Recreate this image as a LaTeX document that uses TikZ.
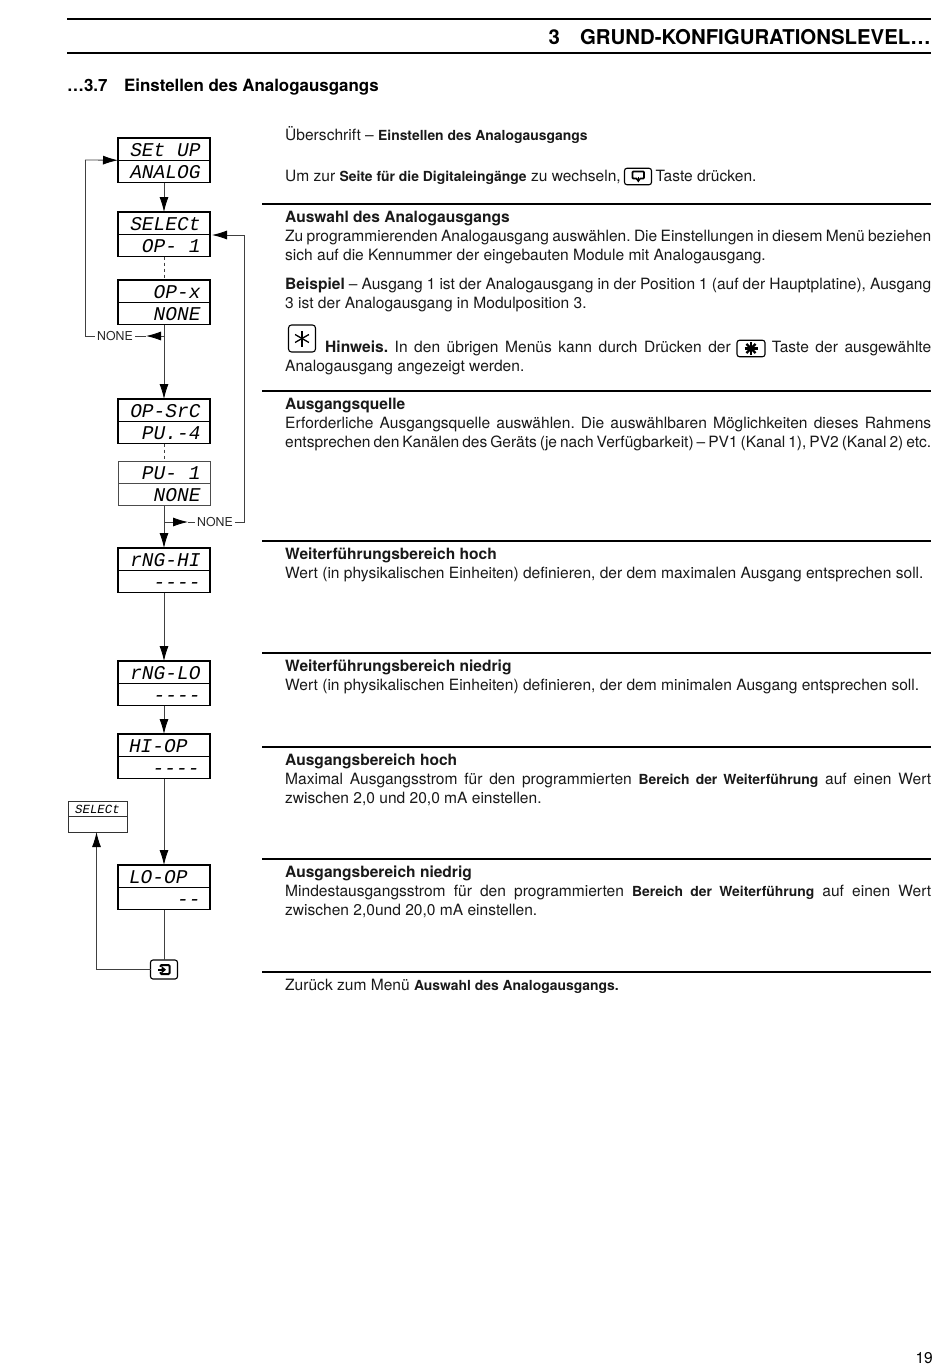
\documentclass[tikz,border=0pt]{standalone}
\usepackage{fontspec}
\setmainfont{TeX Gyre Heros}
\newfontfamily\segfont{Liberation Mono Italic}
\usetikzlibrary{arrows.meta}
\frenchspacing
\newcommand{\bodyfs}{\fontsize{15.55pt}{19pt}\selectfont}
\newcommand{\inl}[1]{{\fontsize{13.9pt}{19pt}\selectfont\bfseries #1}}
\tikzset{
  x=1pt,y=-1pt,
  cell/.style={draw=black,line width=1.5pt,outer sep=0pt,rectangle,minimum width=92pt,minimum height=22.25pt,inner sep=0pt,anchor=north west,font=\segfont\fontsize{19.5pt}{20pt}\selectfont,text height=14pt,text depth=0pt},
  faint/.style={cell,draw=black!70,line width=0.9pt},
  small/.style={draw=black!80,line width=0.9pt,outer sep=0pt,rectangle,minimum width=59pt,minimum height=15.5pt,inner sep=0pt,anchor=north west,font=\segfont\fontsize{12.4pt}{12.6pt}\selectfont,text height=9pt,text depth=0pt},
  flow/.style={draw=black!75,line width=0.8pt},
  head/.style={-{Latex[length=15pt,width=9pt,black]}},
  dashedlink/.style={flow,dashed,dash pattern=on 3pt off 3pt},
  lab/.style={font=\fontsize{12.3pt}{14pt}\selectfont,inner xsep=2.5pt,inner ysep=0pt,outer sep=0pt,fill=white,text=black!85},
  txt/.style={anchor=base west,inner sep=0pt,font=\bodyfs,text=black!90},
  rulel/.style={draw=black,line width=1.6pt},
  keybox/.style={draw=black,line width=1.1pt,rounded corners=2.5pt,rectangle,inner sep=0pt,outer sep=0pt,fill=white},
}
% name, top y, line 1, line 2, style
\newcommand{\dbox}[5][cell]{%
  \node[#1] (#2a) at (118,#3) {\hbox to 83pt{\hfil #4\hspace{5pt}}};
  \node[#1] (#2b) at (118,#3+22.25) {\hbox to 83pt{\hfil #5\hspace{5pt}}};
}
\newcommand{\jline}[2]{\node[txt] at (285,#1) {\makebox[646pt][s]{#2}};}
\newcommand{\pline}[2]{\node[txt] at (285,#1) {#2};}
\begin{document}
\begin{tikzpicture}
\useasboundingbox (0,0) rectangle (950,1370);
\fill[white] (0,0) rectangle (950,1370);
% header
\coordinate (hl) at (67,19); \coordinate (hr) at (931,19);
\draw[rulel] (hl) -- (hr);
\coordinate (hl2) at (67,53); \coordinate (hr2) at (931,53);
\draw[rulel] (hl2) -- (hr2);
\node[anchor=base east,inner sep=0pt,font=\fontsize{20.4pt}{24pt}\selectfont\bfseries] (title) at (931,45) {3\hspace{20pt}GRUND-KONFIGURATIONSLEVEL…};
\node[anchor=base west,inner sep=0pt,font=\fontsize{16.9pt}{20pt}\selectfont\bfseries] (sect) at (67,92) {…3.7\hspace{16.5pt}Einstellen des Analogausgangs};
% section rules
\foreach \yy in {204,391,541,653,747,859,972}{\draw[rulel] (262,\yy) -- (931,\yy);}
% display boxes
\dbox{s}{138}{SEt UP}{ANALOG}
\dbox{e}{212}{SELECt}{OP- 1}
\dbox{x}{280}{OP-x}{NONE}
\dbox{c}{399}{OP-SrC}{PU.-4}
\dbox[faint]{p}{461}{PU- 1}{NONE}
\dbox{h}{548}{rNG-HI}{----}
\dbox{l}{661}{rNG-LO}{----}
\node[cell] (ia) at (118,734) {\hbox to 83pt{\hspace{6.5pt}HI-OP\hfil}};
\node[cell] (ib) at (118,756.25) {\hbox to 83pt{\hfil ----\hspace{6pt}}};
\node[cell] (oa) at (118,865) {\hbox to 83pt{\hspace{6.5pt}LO-OP\hfil}};
\node[cell] (ob) at (118,887.25) {\hbox to 83pt{\hfil --\hspace{5pt}}};
\node[small] (ka) at (68,801) {\hbox to 55pt{\hfil SELECt\hfil}};
\node[small] (kb) at (68,816.5) {};
% key
\node[keybox,minimum width=27pt,minimum height=19pt] (exit) at (164,969.5) {};
\draw[line width=2pt,rounded corners=1pt] (160.5,965) rectangle (169.5,974);
\fill[white] (159,967) rectangle (163,972);
\fill[black] (157.5,968.8) rectangle (162,970.6);
\fill[black] (166,969.7) -- (161.5,965.8) -- (161.5,973.6) -- cycle;
% main connectors
\draw[flow,head] (sb) -- (ea);
\draw[dashedlink] (eb) -- (xa);
\draw[flow,head] (xb) -- (ca);
\draw[dashedlink] (cb) -- (pa);
\draw[flow,head] (pb) -- (ha);
\draw[flow,head] (hb) -- (la);
\draw[flow,head] (lb) -- (ia);
\draw[flow,head] (ib) -- (oa);
\draw[flow] (ob) -- (exit);
% NONE branch left
\node[lab] (n1) at (115,336) {NONE};
\coordinate (j1) at (164,336);
\coordinate (t1) at (146,336);
\coordinate (c1) at (85,336);
\coordinate (c2) at (85,160);
\draw[flow,head] (j1) -- (t1);
\draw[flow] (t1) -- (n1.east);
\draw[flow] (n1.west) -- (c1) -- (c2);
\draw[flow,head] (c2) -- (sa.south west);
% NONE branch right
\node[lab] (n2) at (215,522) {NONE};
\coordinate (j2) at (164,522);
\coordinate (t2) at (188,522);
\coordinate (c3) at (244,522);
\coordinate (c4) at (244,235);
\draw[flow,head] (j2) -- (t2);
\draw[flow] (t2) -- (n2.west);
\draw[flow] (n2.east) -- (c3) -- (c4);
\draw[flow,head] (c4) -- (212,235);
% exit
\coordinate (c5) at (96.5,969.5);
\draw[flow,line width=1pt] (exit.west) -- (c5);
\draw[flow,line width=1pt,head] (c5) -- (kb.south -| c5);
% text
\pline{140}{Überschrift – \inl{Einstellen des Analogausgangs}}
\pline{181.5}{Um zur \inl{Seite für die Digitaleingänge} zu wechseln,\hspace{35pt}Taste drücken.}
\node[keybox,minimum width=27pt,minimum height=16.5pt] (kpage) at (638,176.5) {};
\draw[line width=1.8pt,rounded corners=0.8pt] (632.5,171.5) rectangle (644,178.5);
\fill[white] (636.5,177) rectangle (640,180);
\fill[black] (637.6,176.5) rectangle (639,178.5);
\fill[black] (638.3,182.5) -- (635.4,178.3) -- (641.2,178.3) -- cycle;
\pline{222}{\bfseries Auswahl des Analogausgangs}
\jline{241}{Zu programmierenden Analogausgang auswählen. Die Einstellungen in diesem Menü beziehen}
\pline{260}{sich auf die Kennummer der eingebauten Module mit Analogausgang.}
\jline{289.5}{\textbf{Beispiel} – Ausgang 1 ist der Analogausgang in der Position 1 (auf der Hauptplatine), Ausgang}
\pline{308.5}{3 ist der Analogausgang in Modulposition 3.}
\node[keybox,minimum width=27pt,minimum height=27pt,rounded corners=3pt] (kstar) at (302,338.5) {};
\foreach \aa in {90,150,210}{\draw[line width=1.3pt] (302,338.5) ++(\aa:-8pt) -- ++(\aa:16pt);}
\node[txt] at (325,352.5) {\makebox[606pt][s]{\textbf{Hinweis.} In den übrigen Menüs kann durch Drücken der \hspace{28pt} Taste der ausgewählte}};
\pline{371.5}{Analogausgang angezeigt werden.}
\node[keybox,minimum width=28pt,minimum height=16.5pt] (kstar2) at (751,348.5) {};
\foreach \aa in {0,45,90,135}{\draw[line width=2.2pt] (751,348.5) ++(\aa:-6.5pt) -- ++(\aa:13pt);}
\pline{409}{\bfseries Ausgangsquelle}
\jline{428}{Erforderliche Ausgangsquelle auswählen. Die auswählbaren Möglichkeiten dieses Rahmens}
\jline{447}{entsprechen den Kanälen des Geräts (je nach Verfügbarkeit) – PV1 (Kanal 1), PV2 (Kanal 2) etc.}
\pline{559.5}{\bfseries Weiterführungsbereich hoch}
\pline{578}{Wert (in physikalischen Einheiten) definieren, der dem maximalen Ausgang entsprechen soll.}
\pline{671.5}{\bfseries Weiterführungsbereich niedrig}
\pline{690}{Wert (in physikalischen Einheiten) definieren, der dem minimalen Ausgang entsprechen soll.}
\pline{765.5}{\bfseries Ausgangsbereich hoch}
\jline{784.5}{Maximal Ausgangsstrom für den programmierten \inl{Bereich der Weiterführung} auf einen Wert}
\pline{803}{zwischen 2,0 und 20,0 mA einstellen.}
\pline{877.5}{\bfseries Ausgangsbereich niedrig}
\jline{896.5}{Mindestausgangsstrom für den programmierten \inl{Bereich der Weiterführung} auf einen Wert}
\pline{915}{zwischen 2,0und 20,0 mA einstellen.}
\pline{990}{Zurück zum Menü \inl{Auswahl des Analogausgangs.}}
\node[anchor=base east,inner sep=0pt,font=\bodyfs] (pg) at (933,1363) {19};
\end{tikzpicture}
\end{document}
